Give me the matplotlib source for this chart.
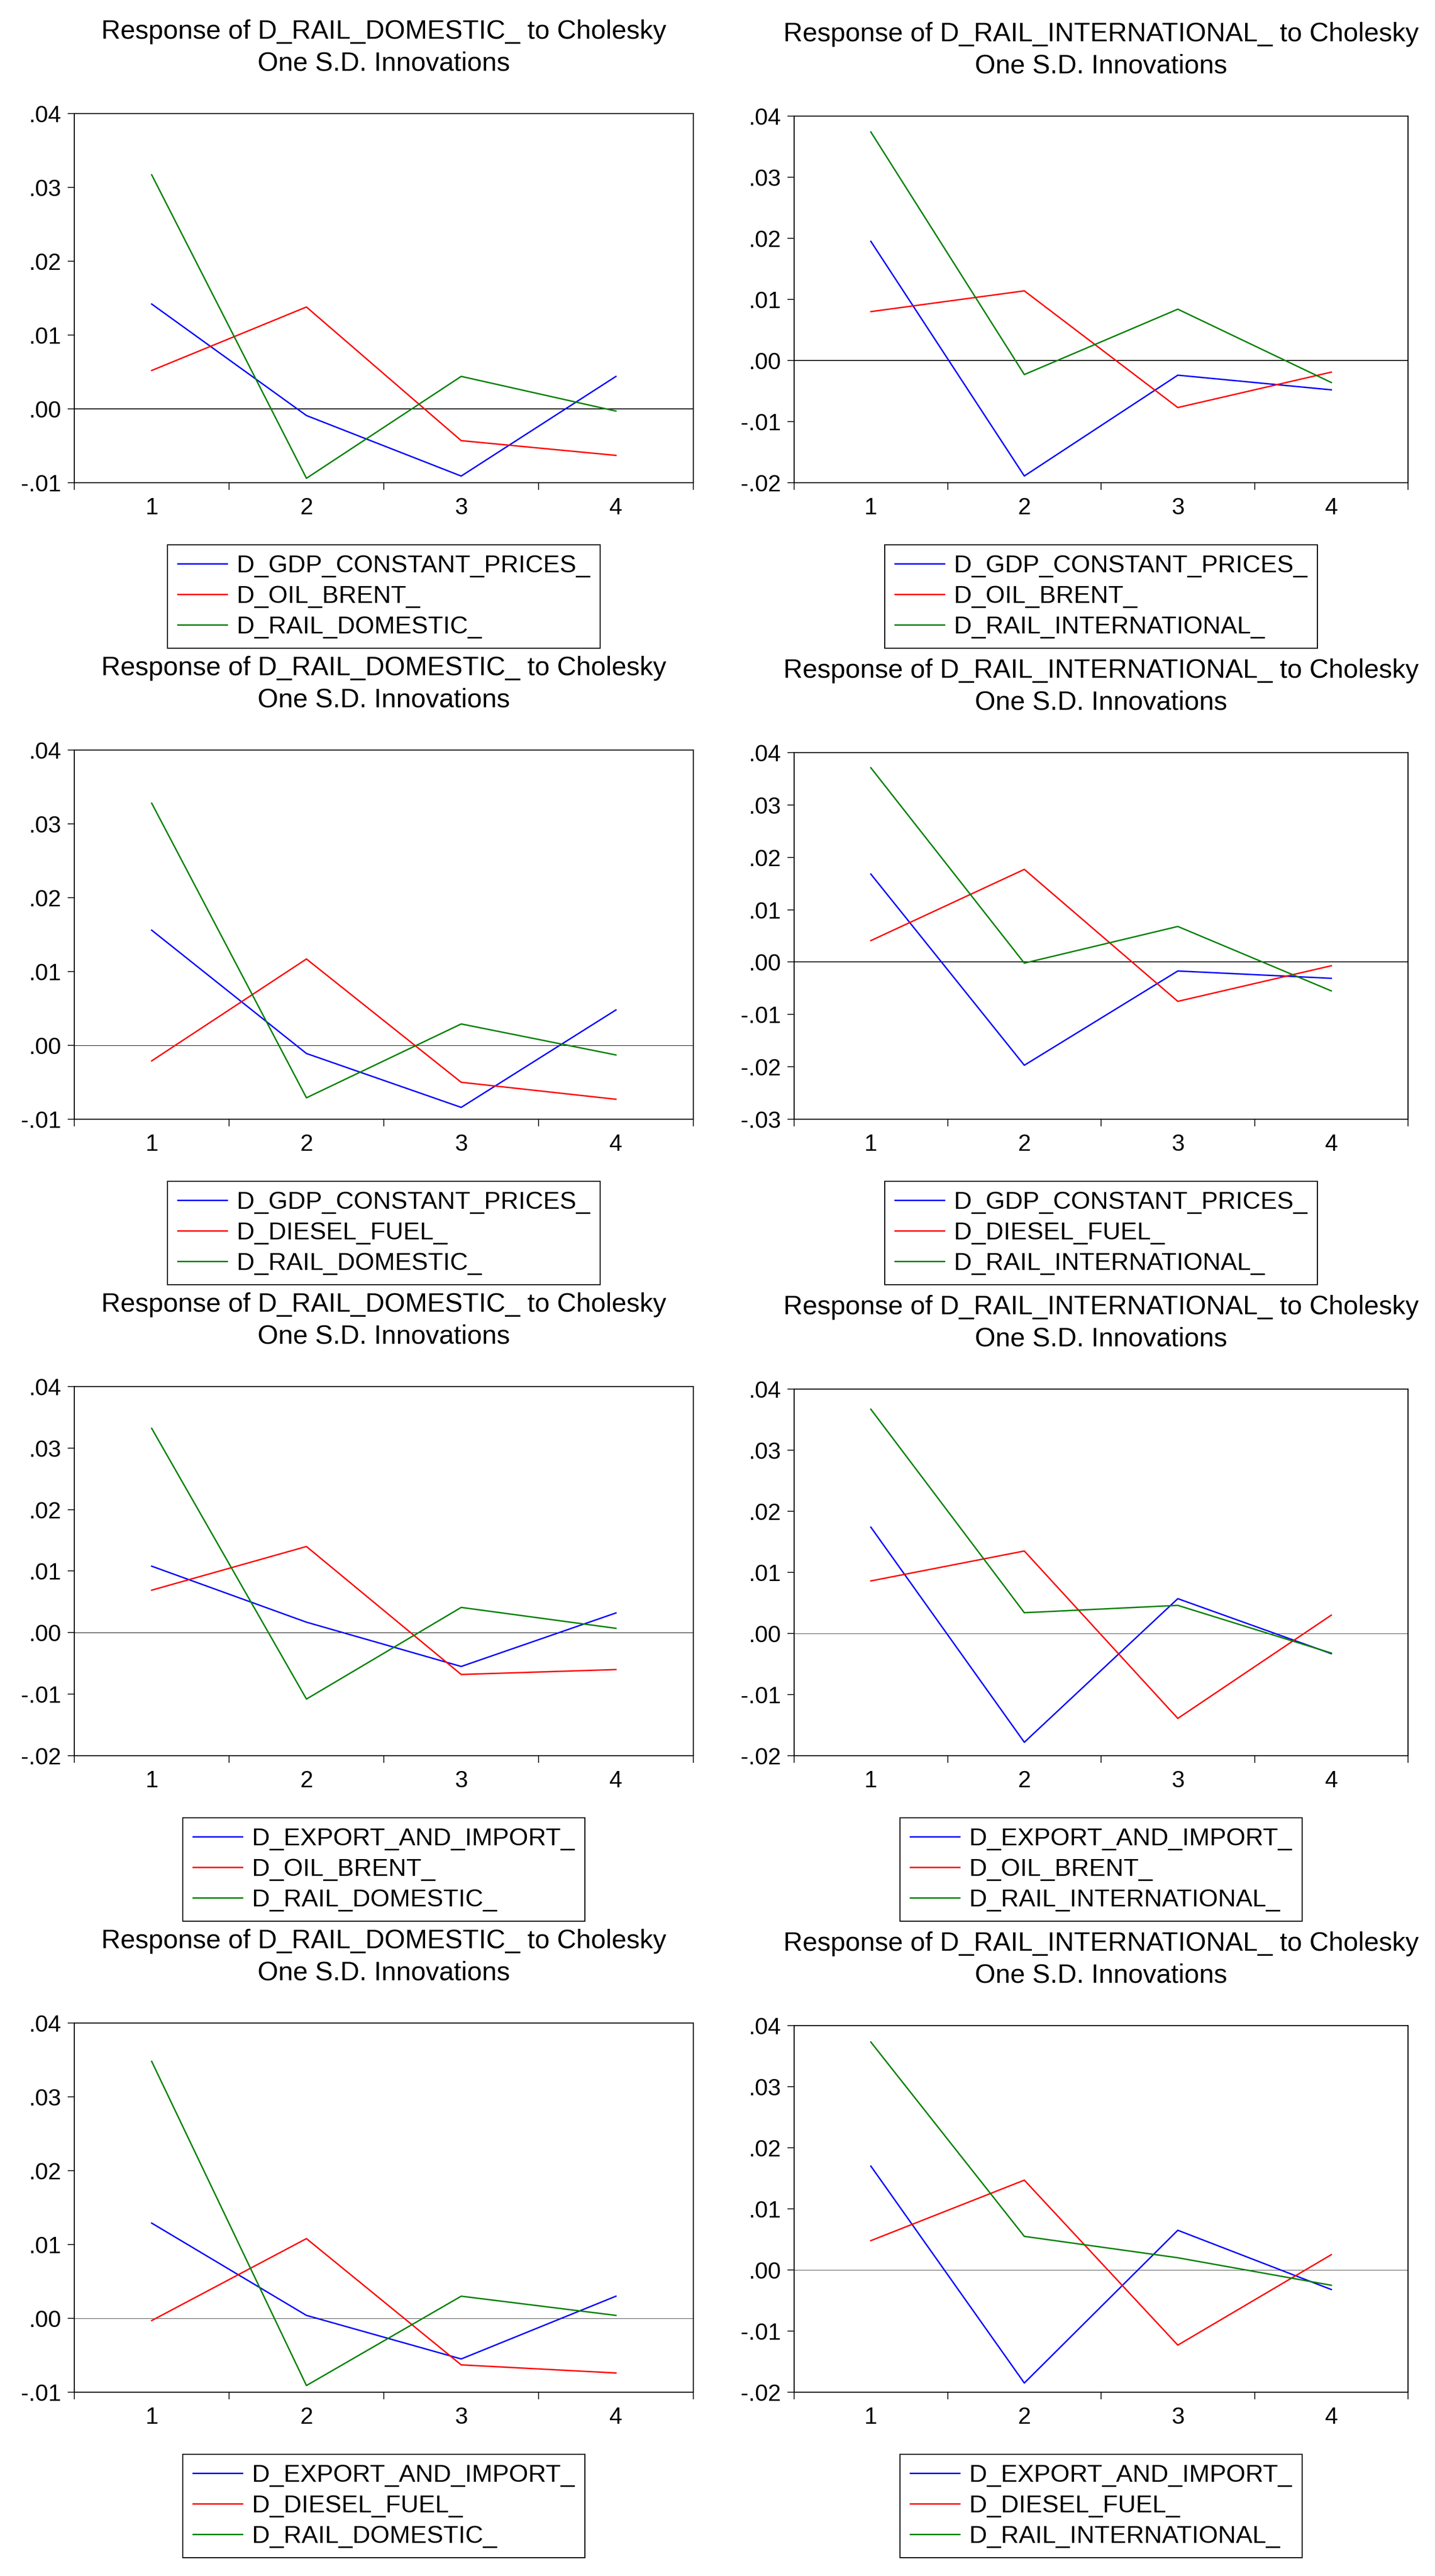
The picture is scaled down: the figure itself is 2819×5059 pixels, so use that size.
import numpy as np
import matplotlib
matplotlib.use("Agg")
import matplotlib.pyplot as plt
from matplotlib.ticker import FuncFormatter, FixedLocator

plt.rcParams['font.family'] = ['Liberation Sans', 'DejaVu Sans']

# periods
periods = [1, 2, 3, 4]

# responses, one list per shock, per panel
gdp_oil_dom = [0.0142, -0.0009, -0.0091, 0.0044]
oil_oil_dom = [0.0052, 0.0138, -0.0043, -0.0063]
dom_oil_dom = [0.0317, -0.0094, 0.0044, -0.0003]

gdp_oil_int = [0.0195, -0.0189, -0.0024, -0.0048]
oil_oil_int = [0.0080, 0.0114, -0.0077, -0.0019]
int_oil_int = [0.0374, -0.0023, 0.0084, -0.0036]

gdp_dsl_dom = [0.0156, -0.0011, -0.0084, 0.0048]
dsl_dsl_dom = [-0.0021, 0.0117, -0.0050, -0.0073]
dom_dsl_dom = [0.0328, -0.0071, 0.0029, -0.0013]

gdp_dsl_int = [0.0168, -0.0197, -0.0017, -0.0031]
dsl_dsl_int = [0.0041, 0.0177, -0.0075, -0.0007]
int_dsl_int = [0.0371, -0.0002, 0.0068, -0.0055]

exp_oil_dom = [0.0108, 0.0017, -0.0055, 0.0032]
oil_exp_dom = [0.0069, 0.0140, -0.0068, -0.0060]
dom_exp_oil = [0.0332, -0.0108, 0.0041, 0.0007]

exp_oil_int = [0.0174, -0.0178, 0.0057, -0.0033]
oil_exp_int = [0.0086, 0.0135, -0.0139, 0.0030]
int_exp_oil = [0.0367, 0.0034, 0.0046, -0.0032]

exp_dsl_dom = [0.0129, 0.0004, -0.0055, 0.0030]
dsl_exp_dom = [-0.0003, 0.0108, -0.0063, -0.0074]
dom_exp_dsl = [0.0348, -0.0091, 0.0030, 0.0004]

exp_dsl_int = [0.0170, -0.0185, 0.0065, -0.0032]
dsl_exp_int = [0.0048, 0.0147, -0.0123, 0.0025]
int_exp_dsl = [0.0373, 0.0055, 0.0020, -0.0025]

responders = ["D_RAIL_DOMESTIC_", "D_RAIL_INTERNATIONAL_"] * 4
shock_names = [
    ["D_GDP_CONSTANT_PRICES_", "D_OIL_BRENT_", "D_RAIL_DOMESTIC_"],
    ["D_GDP_CONSTANT_PRICES_", "D_OIL_BRENT_", "D_RAIL_INTERNATIONAL_"],
    ["D_GDP_CONSTANT_PRICES_", "D_DIESEL_FUEL_", "D_RAIL_DOMESTIC_"],
    ["D_GDP_CONSTANT_PRICES_", "D_DIESEL_FUEL_", "D_RAIL_INTERNATIONAL_"],
    ["D_EXPORT_AND_IMPORT_", "D_OIL_BRENT_", "D_RAIL_DOMESTIC_"],
    ["D_EXPORT_AND_IMPORT_", "D_OIL_BRENT_", "D_RAIL_INTERNATIONAL_"],
    ["D_EXPORT_AND_IMPORT_", "D_DIESEL_FUEL_", "D_RAIL_DOMESTIC_"],
    ["D_EXPORT_AND_IMPORT_", "D_DIESEL_FUEL_", "D_RAIL_INTERNATIONAL_"],
]
series = [
    [gdp_oil_dom, oil_oil_dom, dom_oil_dom],
    [gdp_oil_int, oil_oil_int, int_oil_int],
    [gdp_dsl_dom, dsl_dsl_dom, dom_dsl_dom],
    [gdp_dsl_int, dsl_dsl_int, int_dsl_int],
    [exp_oil_dom, oil_exp_dom, dom_exp_oil],
    [exp_oil_int, oil_exp_int, int_exp_oil],
    [exp_dsl_dom, dsl_exp_dom, dom_exp_dsl],
    [exp_dsl_int, dsl_exp_int, int_exp_dsl],
]
y_low = [-0.01, -0.02, -0.01, -0.03, -0.02, -0.02, -0.01, -0.02]
y_high = 0.04

colors = ["#0000ff", "#ff0000", "#008000"]
zero_lw = [1.3, 1.3, 0.7, 1.3, 0.7, 0.5, 0.5, 0.5]

W, H = 2819, 5059
fig = plt.figure(figsize=(W / 100, H / 100), dpi=100)


def rect(left, top, right, bottom):
    return [left / W, 1 - bottom / H, (right - left) / W, (bottom - top) / H]


def fmt(v, pos):
    s = "%.2f" % v
    if s == "-0.00":
        s = "0.00"
    return s.replace("0.", ".", 1)


for i in range(8):
    row, col = divmod(i, 2)
    if col == 0:
        left, right, top = 146, 1362, 223 + 1250 * row
    else:
        left, right, top = 1560, 2766, 228 + 1250 * row
    bottom = 948 + 1250 * row
    ax = fig.add_axes(rect(left, top, right, bottom))

    for k in range(3):
        ax.plot(periods, series[i][k], color=colors[k], lw=2.0, label=shock_names[i][k])
    ax.axhline(0, color="black", lw=zero_lw[i], zorder=1)

    ax.set_xlim(0.5, 4.5)
    ax.set_ylim(y_low[i], y_high)
    ax.set_yticks(np.arange(y_low[i], y_high + 0.001, 0.01))
    ax.yaxis.set_major_formatter(FuncFormatter(fmt))
    ax.xaxis.set_major_locator(FixedLocator([0.5, 1.5, 2.5, 3.5, 4.5]))
    ax.xaxis.set_minor_locator(FixedLocator(periods))
    ax.xaxis.set_major_formatter(FuncFormatter(lambda v, p: ""))
    ax.xaxis.set_minor_formatter(FuncFormatter(lambda v, p: "%d" % round(v)))
    ax.tick_params(axis="x", which="major", direction="out", length=10, width=1.2)
    ax.tick_params(axis="x", which="minor", length=0, pad=20, labelsize=33)
    ax.tick_params(axis="y", direction="out", length=9.5, width=1.2, pad=9, labelsize=33)
    for sp in ax.spines.values():
        sp.set_linewidth(1.5)

    cx = (left + right) / 2
    fig.text(cx / W, 1 - (94 + 1250 * row + 5 * col) / H,
             "Response of %s to Cholesky\nOne S.D. Innovations" % responders[i],
             ha="center", va="center", fontsize=37.5, linespacing=1.35)

    leg = ax.legend(loc="upper center", bbox_to_anchor=(cx / W, 1 - (1070 + 1250 * row) / H),
                    bbox_transform=fig.transFigure, fontsize=35, handlelength=2.0,
                    handletextpad=0.4, borderpad=0.4, labelspacing=0.3,
                    fancybox=False, framealpha=1, borderaxespad=0)
    leg.get_frame().set_edgecolor("black")
    leg.get_frame().set_linewidth(1.5)

fig.savefig("out.png", dpi=100)
